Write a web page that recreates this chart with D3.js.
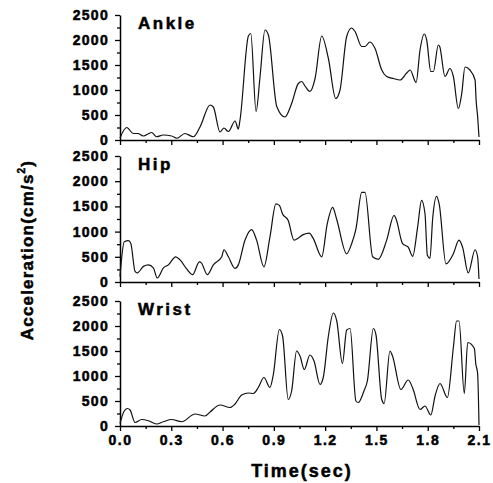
<!DOCTYPE html>
<html>
<head>
<meta charset="utf-8">
<script src="https://cdn.jsdelivr.net/npm/d3@7"></script>
<style>
  body { margin: 0; background: #fff; }
  svg { display: block; font-family: "Liberation Sans", Arial, sans-serif; font-weight: bold; }
  .heavy { stroke: #000; stroke-width: 0.5px; paint-order: stroke; }
</style>
</head>
<body>
<div id="viz"></div>
<script>
// time (sec) and acceleration (cm/s^2)
const ankleT = [0, 0.039, 0.078, 0.105, 0.136, 0.185, 0.214, 0.253, 0.302, 0.332, 0.38, 0.429, 0.468, 0.527, 0.546, 0.585, 0.608, 0.634, 0.673, 0.692, 0.702, 0.751, 0.765, 0.796, 0.819, 0.848, 0.868, 0.917, 0.965, 1.004, 1.043, 1.063, 1.082, 1.111, 1.141, 1.18, 1.219, 1.262, 1.287, 1.326, 1.355, 1.375, 1.414, 1.433, 1.462, 1.492, 1.531, 1.56, 1.599, 1.638, 1.677, 1.697, 1.732, 1.755, 1.78, 1.794, 1.818, 1.833, 1.862, 1.87, 1.901, 1.93, 1.95, 1.979, 1.999, 2.018, 2.047, 2.077, 2.083, 2.092, 2.1];
const ankleV = [40, 250, 130, 130, 80, 150, 65, 100, 80, 35, 130, 65, 260, 700, 660, 160, 240, 170, 380, 220, 400, 2080, 2130, 570, 1260, 2200, 2100, 670, 460, 730, 1130, 1170, 1080, 970, 1230, 2080, 1630, 830, 1000, 2070, 2240, 2170, 1870, 1870, 1960, 1830, 1400, 1270, 1230, 1200, 1340, 1400, 1150, 1800, 2120, 2000, 1370, 1370, 1900, 1870, 1270, 1430, 1270, 630, 930, 1460, 1400, 1200, 800, 470, 60];

const hipT = [0, 0.025, 0.049, 0.063, 0.088, 0.101, 0.137, 0.166, 0.195, 0.218, 0.254, 0.283, 0.326, 0.351, 0.39, 0.425, 0.464, 0.476, 0.511, 0.546, 0.595, 0.608, 0.634, 0.673, 0.692, 0.731, 0.77, 0.799, 0.842, 0.877, 0.912, 0.932, 0.951, 0.984, 1.018, 1.037, 1.072, 1.107, 1.131, 1.18, 1.212, 1.244, 1.267, 1.326, 1.355, 1.38, 1.414, 1.433, 1.478, 1.511, 1.56, 1.603, 1.615, 1.653, 1.686, 1.712, 1.741, 1.764, 1.784, 1.798, 1.813, 1.829, 1.852, 1.867, 1.907, 1.95, 1.983, 2.004, 2.037, 2.077, 2.092, 2.1];
const hipV = [110, 800, 820, 770, 210, 180, 310, 340, 280, 80, 280, 340, 500, 440, 260, 145, 400, 380, 145, 340, 500, 640, 500, 270, 340, 830, 1040, 830, 300, 890, 1550, 1520, 1350, 1220, 830, 860, 940, 970, 860, 500, 1150, 1480, 1250, 560, 760, 1050, 1780, 1780, 500, 450, 830, 1320, 1250, 760, 690, 510, 1090, 1620, 1360, 530, 470, 1260, 1700, 1550, 360, 560, 830, 690, 180, 640, 500, 60];

const wristT = [0, 0.023, 0.043, 0.059, 0.088, 0.127, 0.166, 0.214, 0.253, 0.302, 0.361, 0.439, 0.497, 0.527, 0.585, 0.644, 0.673, 0.712, 0.751, 0.78, 0.809, 0.842, 0.877, 0.897, 0.932, 0.951, 0.984, 1.004, 1.033, 1.053, 1.078, 1.111, 1.135, 1.17, 1.189, 1.219, 1.248, 1.268, 1.301, 1.326, 1.346, 1.38, 1.394, 1.427, 1.447, 1.482, 1.497, 1.531, 1.545, 1.579, 1.594, 1.643, 1.686, 1.713, 1.755, 1.784, 1.818, 1.843, 1.872, 1.915, 1.95, 1.969, 1.983, 2.014, 2.034, 2.073, 2.081, 2.092, 2.1];
const wristV = [50, 290, 350, 320, 70, 130, 105, 40, 85, 130, 85, 240, 200, 280, 420, 370, 440, 620, 660, 650, 770, 970, 770, 1030, 1930, 1800, 530, 700, 1500, 1400, 1130, 1420, 1300, 830, 970, 1800, 2260, 2100, 1250, 1920, 1950, 500, 470, 700, 900, 1950, 1830, 530, 450, 1500, 1400, 730, 920, 750, 330, 400, 220, 600, 850, 570, 1570, 2100, 2100, 650, 1670, 1550, 1250, 1050, 20];

const panels = [
  { name: "Ankle", t: ankleT, v: ankleV, top: 15, bottom: 140 },
  { name: "Hip", t: hipT, v: hipV, top: 156, bottom: 282 },
  { name: "Wrist", t: wristT, v: wristV, top: 301, bottom: 426 }
];
const yTicks = [0, 500, 1000, 1500, 2000, 2500];
const xTicks = [0, 0.3, 0.6, 0.9, 1.2, 1.5, 1.8, 2.1];

const svg = d3.select("#viz").append("svg")
  .attr("width", 493)
  .attr("height", 483);

const x = d3.scaleLinear().domain([0, 2.1]).range([120, 479]);

panels.forEach(p => {
  const y = d3.scaleLinear().domain([0, 2500]).range([p.bottom, p.top]);
  const g = svg.append("g");

  // minor ticks first
  g.append("g")
    .attr("transform", "translate(120,0)")
    .call(d3.axisLeft(y).tickValues(d3.range(250, 2500, 500)).tickSize(3).tickFormat(""))
    .call(a => a.select(".domain").remove());
  g.append("g")
    .attr("transform", `translate(0,${p.bottom})`)
    .call(d3.axisBottom(x).tickValues(d3.range(0.15, 2.1, 0.3)).tickSize(3).tickFormat(""))
    .call(a => a.select(".domain").remove());

  const ya = g.append("g")
    .attr("transform", "translate(120,0)")
    .call(d3.axisLeft(y).tickValues(yTicks).tickSize(5).tickSizeOuter(0).tickPadding(6).tickFormat(d3.format("d")));
  ya.selectAll("text").attr("font-size", 14).attr("letter-spacing", 1.3)
    .attr("font-family", "Liberation Sans, Arial, sans-serif").attr("font-weight", "bold")
    .attr("class", "heavy");

  g.append("g")
    .attr("transform", `translate(0,${p.bottom})`)
    .call(d3.axisBottom(x).tickValues(xTicks).tickSize(5).tickSizeOuter(0).tickFormat(""));

  g.selectAll(".domain").attr("stroke-width", 1.5);
  g.selectAll(".tick line").attr("stroke-width", 1.3);

  const line = d3.line()
    .x((d, i) => x(p.t[i]))
    .y(d => y(d))
    .curve(d3.curveMonotoneX);

  g.append("path")
    .datum(p.v)
    .attr("fill", "none")
    .attr("stroke", "#111")
    .attr("stroke-width", 1.2)
    .attr("d", line);

  g.append("text")
    .attr("class", "heavy")
    .attr("x", 138)
    .attr("y", p.top + 14)
    .attr("font-size", 17)
    .attr("letter-spacing", 2.5)
    .text(p.name);
});

// bottom x tick labels
svg.append("g")
  .attr("transform", "translate(0,426)")
  .call(d3.axisBottom(x).tickValues(xTicks).tickSize(0).tickPadding(9).tickFormat(d3.format(".1f")))
  .call(a => a.select(".domain").remove())
  .selectAll("text")
  .attr("class", "heavy")
  .attr("font-size", 14)
  .attr("letter-spacing", 1.5)
  .attr("font-family", "Liberation Sans, Arial, sans-serif")
  .attr("font-weight", "bold");

svg.append("text")
  .attr("class", "heavy")
  .attr("x", 302)
  .attr("y", 477)
  .attr("text-anchor", "middle")
  .attr("font-size", 18)
  .attr("letter-spacing", 2)
  .text("Time(sec)");

const yl = svg.append("text")
  .attr("class", "heavy")
  .attr("transform", "translate(33,250) rotate(-90)")
  .attr("text-anchor", "middle")
  .attr("font-size", 17)
  .attr("letter-spacing", 1.2);
yl.append("tspan").text("Acceleration(cm/s");
yl.append("tspan").attr("font-size", 10).attr("dy", -8).text("2");
yl.append("tspan").attr("dy", 8).text(")");
</script>
</body>
</html>
